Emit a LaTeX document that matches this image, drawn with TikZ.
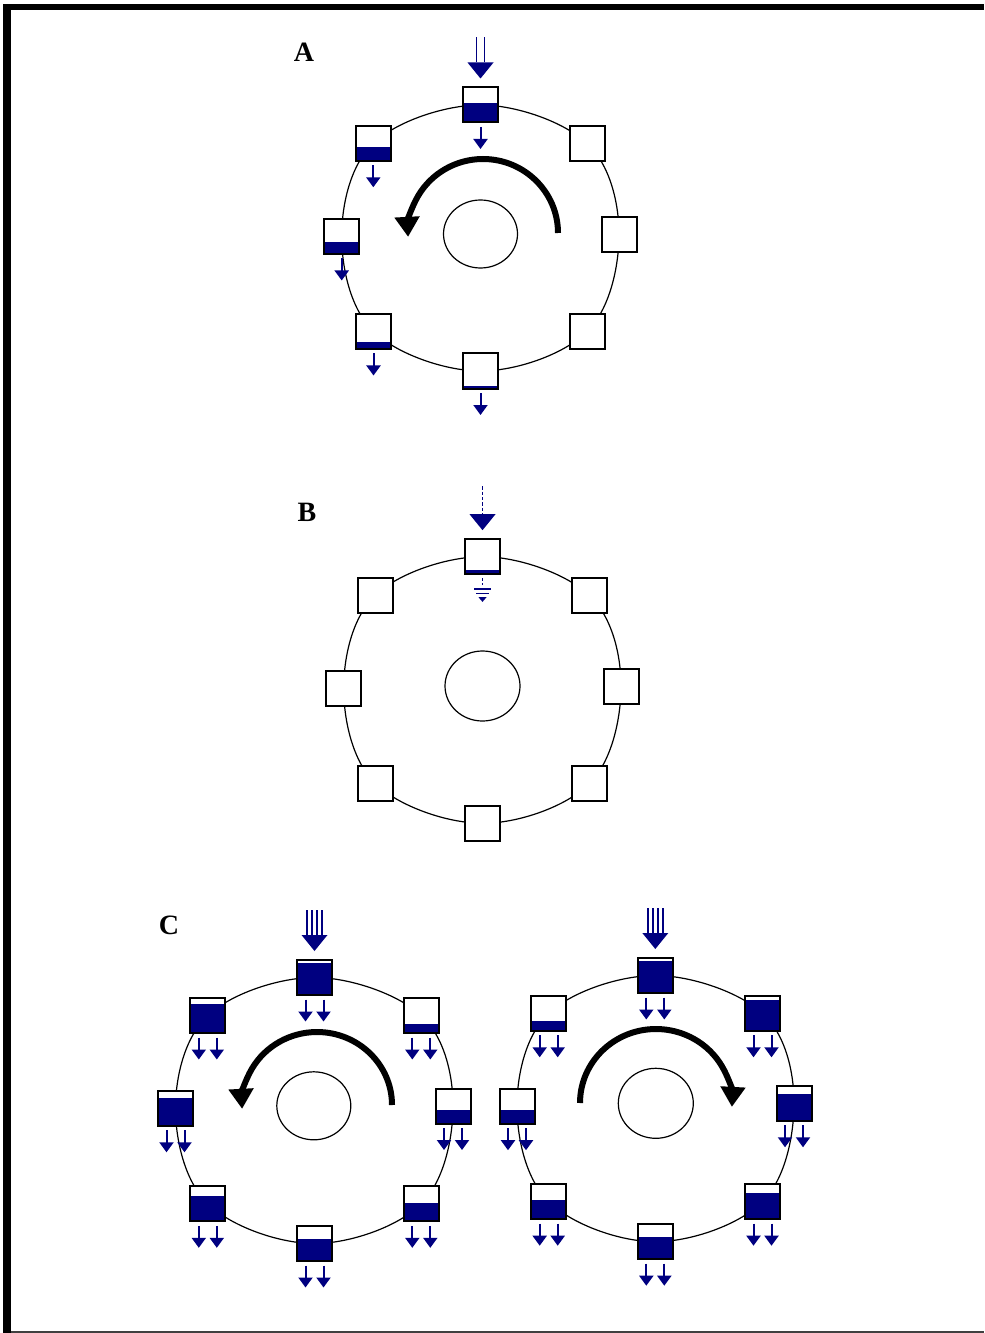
\documentclass[tikz,border=0pt]{standalone}
\usepackage{fontspec}
\setmainfont{Liberation Serif}
\usetikzlibrary{arrows.meta,backgrounds}
\definecolor{tankblue}{RGB}{0,0,128}

% one tank: white box on the ring, filled from the bottom to a given level
\tikzset{
  tank/.style={draw=black, line width=1.5pt, fill=white, minimum size=26.25pt, inner sep=0pt},
  level/.style={path picture={\fill[tankblue] (path picture bounding box.south west)
      rectangle ([yshift={(#1*37-1)*0.75pt}]path picture bounding box.south east);}},
  ring/.style={draw=black, line width=0.9pt},
  hub/.style={draw=black, line width=0.9pt},
  spin/.style={draw=black, line width=4.5pt, -{Triangle[length=15pt,width=18pt]}},
  drain/.style={draw=tankblue, line width=1.5pt, -{Triangle[length=7.5pt,width=10.5pt]}},
  feedline/.style={draw=tankblue, line width=1.1pt},
  panel/.style={font=\fontsize{21}{25}\selectfont\bfseries, anchor=base, inner sep=0pt},
}

% outflow arrow below a tank, shifted sideways by #2
\newcommand\drain[2]{\draw[drain] (#1.south) ++(#2,3.5) -- ++(0,22);}
% inflow above a tank: feed lines at the offsets #2 and a large head
\newcommand\feed[2]{%
  \foreach \dx in {#2} {\draw[feedline] (#1.north) ++(\dx,-49) -- ++(0,25);}
  \fill[tankblue] (#1.north) ++(-13,-24) -- ++(26,0) -- ++(-13,16) -- cycle;}

\begin{document}
\begin{tikzpicture}[x=0.75pt,y=-0.75pt]
\useasboundingbox (0,0) rectangle (984,1333);

% frame
\fill[black] (3,4) rectangle (984,10.5);
\fill[black] (3,4) rectangle (10.5,1333);
\draw[black!75, line width=1.5pt] (10.5,1331.5) -- (984,1331.5);

% ---------------- A ----------------
\node[panel] (labA) at (304,62) {A};
\node[tank, level=0.55] (a1) at (480.5,105) {};
\node[tank] (a2) at (587,143.3) {};
\node[tank] (a3) at (619,234.5) {};
\node[tank] (a4) at (587,331.7) {};
\node[tank, level=0.10] (a5) at (480.5,371) {};
\node[tank, level=0.22] (a6) at (373.5,331.5) {};
\node[tank, level=0.36] (a7) at (341.7,236.5) {};
\node[tank, level=0.40] (a8) at (373.3,143.3) {};
\begin{scope}[on background layer]
  \draw[ring] plot[smooth cycle, tension=0.6] coordinates {(a1) (a2) (a3) (a4) (a5) (a6) (a7) (a8)};
\end{scope}
\draw[hub] (480.5,234) ellipse [x radius=37, y radius=34];
\draw[spin] (558,233) arc[start angle=0, end angle=-183, x radius=75, y radius=74];
\feed{a1}{-4.2,4.2}
\drain{a1}{0} \drain{a8}{0} \drain{a7}{0} \drain{a6}{0} \drain{a5}{0}

% ---------------- B ----------------
\node[panel] (labB) at (307,521) {B};
\node[tank, level=0.15] (b1) at (482.5,556.7) {};
\node[tank] (b2) at (589,595) {};
\node[tank] (b3) at (621,686) {};
\node[tank] (b4) at (589.3,783.7) {};
\node[tank] (b5) at (482.8,823.3) {};
\node[tank] (b6) at (375.5,783.7) {};
\node[tank] (b7) at (343.7,688.3) {};
\node[tank] (b8) at (375.5,595) {};
\begin{scope}[on background layer]
  \draw[ring] plot[smooth cycle, tension=0.6] coordinates {(b1) (b2) (b3) (b4) (b5) (b6) (b7) (b8)};
\end{scope}
\draw[hub] (482.5,686) ellipse [x radius=37.5, y radius=35];
\draw[feedline, dash pattern=on 2.5pt off 1.5pt] (b1.north) ++(0,-52) -- ++(0,28);
\fill[tankblue] (b1.north) ++(-13,-24) -- ++(26,0) -- ++(-13,16) -- cycle;
\draw[feedline, dash pattern=on 2pt off 1.5pt] (b1.south) ++(0,3) -- ++(0,7);
\draw[feedline] (b1.south) ++(-8.5,13.7) -- ++(17,0);
\draw[feedline] (b1.south) ++(-6.5,18.3) -- ++(13,0);
\fill[tankblue] (b1.south) ++(-4,22) -- ++(8,0) -- ++(-4,4.7) -- cycle;

% ---------------- C, left ----------------
\node[panel] (labC) at (169,934) {C};
\node[tank, level=0.90] (c1) at (314.5,977.5) {};
\node[tank, level=0.28] (c2) at (421.3,1015.5) {};
\node[tank, level=0.40] (c3) at (453,1106) {};
\node[tank, level=0.53] (c4) at (421.3,1203.8) {};
\node[tank, level=0.62] (c5) at (314.5,1243.5) {};
\node[tank, level=0.71] (c6) at (207.8,1203.8) {};
\node[tank, level=0.77] (c7) at (175.5,1108.3) {};
\node[tank, level=0.82] (c8) at (207.8,1015.5) {};
\begin{scope}[on background layer]
  \draw[ring] plot[smooth cycle, tension=0.6] coordinates {(c1) (c2) (c3) (c4) (c5) (c6) (c7) (c8)};
\end{scope}
\draw[hub] (313.8,1105.8) ellipse [x radius=37, y radius=34];
\draw[spin] (392,1105) arc[start angle=0, end angle=-183, x radius=75, y radius=73];
\feed{c1}{-7.5,-2.5,2.5,7.5}
\foreach \t in {c1,c2,c3,c4,c5,c6,c7,c8} {\drain{\t}{-9} \drain{\t}{9}}

% ---------------- C, right ----------------
\node[tank, level=0.88] (d1) at (655.3,975.5) {};
\node[tank, level=0.86] (d2) at (762.5,1013.3) {};
\node[tank, level=0.75] (d3) at (794,1103.3) {};
\node[tank, level=0.73] (d4) at (762.5,1201.7) {};
\node[tank, level=0.62] (d5) at (655.3,1241.7) {};
\node[tank, level=0.55] (d6) at (548.7,1201.7) {};
\node[tank, level=0.40] (d7) at (517,1106.2) {};
\node[tank, level=0.29] (d8) at (548.7,1013.3) {};
\begin{scope}[on background layer]
  \draw[ring] plot[smooth cycle, tension=0.6] coordinates {(d1) (d2) (d3) (d4) (d5) (d6) (d7) (d8)};
\end{scope}
\draw[hub] (655.8,1103.3) ellipse [x radius=37.5, y radius=35];
\draw[spin] (580,1103) arc[start angle=-180, end angle=3, x radius=76, y radius=74];
\feed{d1}{-7.5,-2.5,2.5,7.5}
\foreach \t in {d1,d2,d3,d4,d5,d6,d7,d8} {\drain{\t}{-9} \drain{\t}{9}}

\end{tikzpicture}
\end{document}
